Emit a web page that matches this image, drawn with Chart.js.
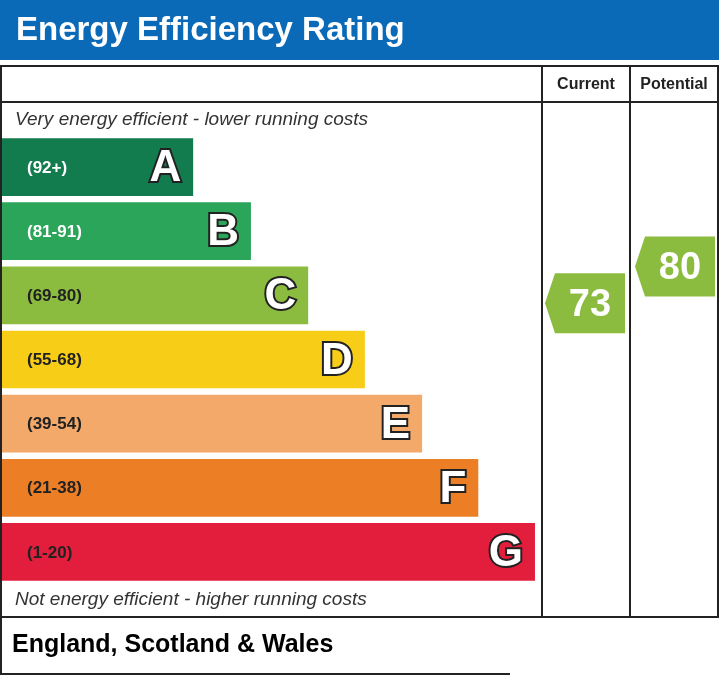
<!DOCTYPE html>
<html><head><meta charset="utf-8">
<script src="https://cdn.jsdelivr.net/npm/chart.js@4"></script>
<style>html,body{margin:0;padding:0;background:#fff}#c{display:block}</style>
</head><body>
<div style="width:719px;height:675px"><canvas id="c"></canvas></div>
<script>
// rating bands, top to bottom
let bandLetters = ['A', 'B', 'C', 'D', 'E', 'F', 'G']
let bandRanges = ['(92+)', '(81-91)', '(69-80)', '(55-68)', '(39-54)', '(21-38)', '(1-20)']
let bandHigh = [100, 91, 80, 68, 54, 38, 20]
let bandLow = [92, 81, 69, 55, 39, 21, 1]
let bandLengths = [35.4, 46.1, 56.7, 67.2, 77.8, 88.2, 98.7] // bar length, % of the band area
let bandColors = ['#137c4e', '#2ba55a', '#8cbc3f', '#f7cd17', '#f3a96a', '#ec7f26', '#e21e3c']
let labelDark = [false, false, true, true, true, true, true]
let currentRating = 73
let potentialRating = 80

// find y pixel of a rating inside its band
function ratingY(chart, v) {
  let y = chart.scales.y
  for (let i = 0; i < bandHigh.length; i++) {
    if (v >= bandLow[i] && v <= bandHigh[i]) {
      let bar = chart.getDatasetMeta(0).data[i]
      let top = bar.y - bar.height / 2
      return top + (bandHigh[i] - v) / (bandHigh[i] - bandLow[i]) * bar.height
    }
  }
  return y.top
}

function arrow(ctx, x, cy, v, color) {
  let h = 60, w = 80, tip = 10
  ctx.fillStyle = color
  ctx.beginPath()
  ctx.moveTo(x, cy)
  ctx.lineTo(x + tip, cy - h / 2)
  ctx.lineTo(x + w, cy - h / 2)
  ctx.lineTo(x + w, cy + h / 2)
  ctx.lineTo(x + tip, cy + h / 2)
  ctx.closePath()
  ctx.fill()
  ctx.fillStyle = '#fff'
  ctx.font = 'bold 38px "Liberation Sans", Arial'
  ctx.textAlign = 'center'
  ctx.textBaseline = 'middle'
  ctx.fillText(String(v), x + tip / 2 + w / 2, cy + 2)
}

let epcFrame = {
  id: 'epcFrame',
  beforeDraw(chart) {
    let ctx = chart.ctx
    ctx.save()
    ctx.fillStyle = '#0a6ab7'
    ctx.fillRect(0, 0, 719, 60)
    ctx.fillStyle = '#fff'
    ctx.font = 'bold 33px "Liberation Sans", Arial'
    ctx.textBaseline = 'middle'
    ctx.fillText('Energy Efficiency Rating', 16, 31)
    ctx.strokeStyle = '#222'
    ctx.lineWidth = 2
    ctx.strokeRect(1, 66, 717, 551)
    ctx.beginPath()
    ctx.moveTo(1, 102); ctx.lineTo(718, 102)
    ctx.moveTo(542, 66); ctx.lineTo(542, 617)
    ctx.moveTo(630, 66); ctx.lineTo(630, 617)
    ctx.moveTo(1, 617); ctx.lineTo(1, 674); ctx.lineTo(510, 674)
    ctx.stroke()
    ctx.fillStyle = '#222'
    ctx.font = 'bold 16px "Liberation Sans", Arial'
    ctx.textAlign = 'center'
    ctx.fillText('Current', 586, 85)
    ctx.fillText('Potential', 674, 85)
    ctx.textAlign = 'left'
    ctx.fillStyle = '#333'
    ctx.font = 'italic 19px "Liberation Sans", Arial'
    ctx.fillText('Very energy efficient - lower running costs', 15, 120)
    ctx.fillText('Not energy efficient - higher running costs', 15, 600)
    ctx.fillStyle = '#000'
    ctx.font = 'bold 25px "Liberation Sans", Arial'
    ctx.fillText('England, Scotland & Wales', 12, 645)
    ctx.restore()
  },
  afterDatasetsDraw(chart) {
    let ctx = chart.ctx
    ctx.save()
    ctx.textBaseline = 'middle'
    chart.getDatasetMeta(0).data.forEach(function(bar, i) {
      ctx.fillStyle = labelDark[i] ? '#222' : '#fff'
      ctx.font = 'bold 17px "Liberation Sans", Arial'
      ctx.textAlign = 'left'
      ctx.fillText(bandRanges[i], 27, bar.y + 1)
      ctx.font = 'bold 44px "Liberation Sans", Arial'
      ctx.textAlign = 'right'
      ctx.lineWidth = 4
      ctx.strokeStyle = '#222'
      ctx.strokeText(bandLetters[i], bar.x - 12, bar.y + 2)
      ctx.fillStyle = '#fff'
      ctx.fillText(bandLetters[i], bar.x - 12, bar.y + 2)
    })
    arrow(ctx, 545, ratingY(chart, currentRating), currentRating, bandColors[2])
    arrow(ctx, 635, ratingY(chart, potentialRating), potentialRating, bandColors[2])
    ctx.restore()
  }
}

new Chart(document.getElementById('c'), {
  type: 'bar',
  data: {
    labels: bandLetters,
    datasets: [{ data: bandLengths, backgroundColor: bandColors, barPercentage: 0.9, categoryPercentage: 1 }]
  },
  options: {
    indexAxis: 'y',
    responsive: true,
    maintainAspectRatio: false,
    animation: false,
    layout: { padding: { left: 2, right: 177, top: 135, bottom: 91 } },
    scales: {
      x: { display: false, min: 0, max: 100 },
      y: { display: false }
    },
    plugins: { legend: { display: false }, tooltip: { enabled: false } }
  },
  plugins: [epcFrame]
})
</script>
</body></html>
